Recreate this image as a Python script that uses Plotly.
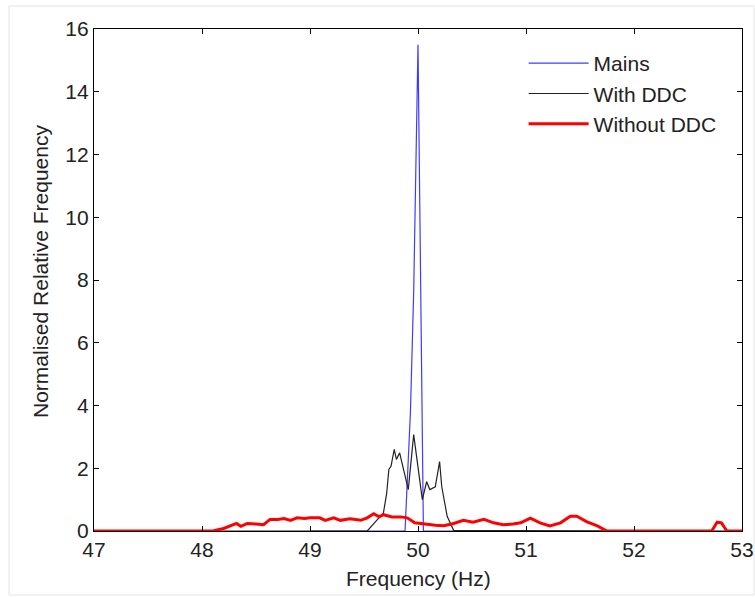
import plotly.graph_objects as go

# Mains
mains_f = [49.0, 49.85, 49.88, 49.93, 49.96, 50.0, 50.05, 51.0]
mains_v = [0, 0, 0, 3.8, 7.6, 15.5, 0, 0]

# With DDC
with_f = [47.0, 49.53, 49.68, 49.71, 49.73, 49.75, 49.78, 49.80, 49.83, 49.85, 49.91,
          49.96, 49.99, 50.04, 50.08, 50.11, 50.16, 50.20, 50.22, 50.27, 50.33, 53.0]
with_v = [0, 0, 0.58, 1.2, 1.96, 2.06, 2.6, 2.28, 2.49, 2.17, 1.32,
          3.07, 2.28, 1.0, 1.57, 1.32, 1.41, 2.21, 1.41, 0.47, 0.02, 0]

# Without DDC
without_f = [47.0, 48.1, 48.2, 48.26, 48.32, 48.36, 48.42, 48.5, 48.57, 48.63, 48.7, 48.76,
             48.82, 48.88, 48.95, 49.0, 49.09, 49.14, 49.22, 49.28, 49.37, 49.47, 49.53,
             49.59, 49.64, 49.68, 49.76, 49.84, 49.9, 49.97, 50.08, 50.16, 50.24, 50.33,
             50.42, 50.51, 50.61, 50.7, 50.79, 50.88, 50.95, 51.04, 51.13, 51.22, 51.32,
             51.41, 51.47, 51.56, 51.66, 51.75, 52.72, 52.77, 52.81, 52.86, 53.0]
without_v = [0, 0, 0.08, 0.15, 0.24, 0.15, 0.24, 0.22, 0.2, 0.37, 0.37, 0.4,
             0.34, 0.42, 0.4, 0.42, 0.42, 0.34, 0.42, 0.34, 0.39, 0.34, 0.42,
             0.55, 0.45, 0.52, 0.45, 0.45, 0.42, 0.26, 0.2, 0.18, 0.17, 0.24,
             0.34, 0.28, 0.37, 0.26, 0.2, 0.22, 0.26, 0.41, 0.26, 0.16, 0.26,
             0.47, 0.47, 0.3, 0.16, 0, 0, 0.28, 0.26, 0, 0]

x_ticks = [47, 48, 49, 50, 51, 52, 53]
y_ticks = [0, 2, 4, 6, 8, 10, 12, 14, 16]

fig = go.Figure()
fig.add_trace(go.Scatter(x=mains_f, y=mains_v, mode="lines", name="Mains",
                         line=dict(color="#3c3cff", width=1.2)))
fig.add_trace(go.Scatter(x=with_f, y=with_v, mode="lines", name="With DDC",
                         line=dict(color="#222222", width=1.2)))
fig.add_trace(go.Scatter(x=without_f, y=without_v, mode="lines", name="Without DDC",
                         line=dict(color="#ff0000", width=3)))

font = dict(family="Liberation Sans, Arial, sans-serif", size=21, color="#222222")
axis_common = dict(showline=True, linecolor="black", linewidth=1.2, mirror="allticks",
                   ticks="inside", ticklen=5, tickcolor="black", showgrid=False,
                   zeroline=False, tickfont=font, automargin=False)

L, R, T, B = 94, 13, 29, 66
W, H = 755, 597
pw, ph = W - L - R, H - T - B

fig.update_layout(
    width=W, height=H,
    margin=dict(l=L, r=R, t=T, b=B),
    paper_bgcolor="white", plot_bgcolor="white",
    font=font,
    xaxis=dict(range=[47, 53], tickvals=x_ticks, ticktext=[str(t) for t in x_ticks],
               **axis_common),
    yaxis=dict(range=[0, 16], tickvals=y_ticks, ticktext=[str(t) for t in y_ticks],
               **axis_common),
    legend=dict(x=0.663, y=0.972, xanchor="left", yanchor="top", bgcolor="rgba(0,0,0,0)",
                font=font, itemwidth=60),
    showlegend=True,
)
fig.add_annotation(text="Frequency (Hz)", xref="paper", yref="paper",
                   x=(418 - L) / pw, y=-(578 - (H - B)) / ph, showarrow=False,
                   xanchor="center", yanchor="middle", font=font)
fig.add_annotation(text="Normalised Relative Frequency", xref="paper", yref="paper",
                   x=(40 - L) / pw, y=(H - B - 272) / ph, showarrow=False, textangle=-90,
                   xanchor="center", yanchor="middle", font=font)
fig.add_shape(type="rect", xref="paper", yref="paper",
              x0=(9 - L) / pw, x1=(754 - L) / pw, y0=-(595 - (H - B)) / ph, y1=(H - B - 6) / ph,
              line=dict(color="#e4e4e4", width=1), layer="below")

fig.write_html("out.html", config={"displayModeBar": False},
               post_script="document.body.style.margin='0';")
